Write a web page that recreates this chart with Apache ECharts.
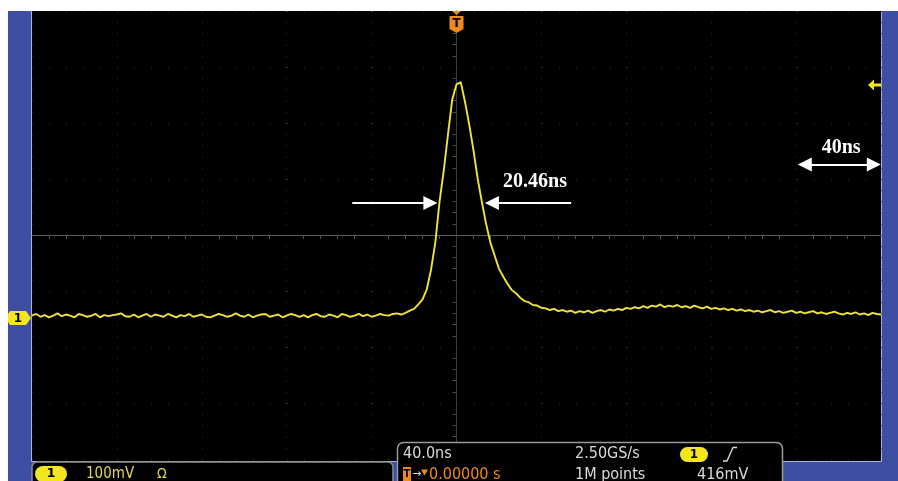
<!DOCTYPE html>
<html>
<head>
<meta charset="utf-8">
<script src="https://cdn.jsdelivr.net/npm/echarts@6/dist/echarts.min.js"></script>
<style>
html,body{margin:0;padding:0;background:#ffffff;}
#c{width:898px;height:481px;}
</style>
</head>
<body>
<div id="c"></div>
<script>
// ---------------- DATA ----------------
// Time base of the acquisition (ns)
const SAMPLE_START_NS = -200;
const SAMPLE_STEP_NS = 2;
const TIME_DIV_NS = 40;
const VOLT_DIV_MV = 100;
const GROUND_BELOW_CENTER_DIV = 1.48;
const TRIGGER_TIME_NS = 0;
const TRIGGER_LEVEL_MV = 416;

// Channel 1 trace (mV above ground), one value per sample
const baselineLeftMV = [
  4,7,2,5,1,4,8,3,6,4,1,7,5,2,4,7,1,5,3,5,
  6,8,3,2,6,1,4,7,2,6,4,2,7,4,1,5,3,7,2,4,
  6,2,1,4,7,5,2,4,8,4,2,6,1,4,6,7,2,4,6,1,
  4,7,5,2,5,1,5,7,3,2,6,4,1,7,5,2,4,7,3,6,
  2,4,7,5,4,7,8
];
const pulseMV = [
  6,9,13,16,24,33,51,86,134,207,
  263,328,390,417,421,386,345,299,248,206,
  167,134,111,88,74,61,50,44,36,30,
  28,23,22,18
];
const tailRightMV = [
  17,14,16,12,14,11,13,9,12,10,
  13,9,12,14,11,15,13,16,14,18,
  16,19,17,21,18,22,20,24,19,22,
  20,23,19,21,18,22,19,17,20,16,
  18,15,17,14,16,13,15,12,14,11,
  13,10,12,14,10,12,9,11,13,9,
  11,8,10,12,8,10,7,9,11,8,
  6,9,7,10,6,8,5,9,7,6
];

// Annotations (data coordinates: ns, mV); arrow tips at the end coordinates
const fwhmText = '20.46ns';
const fwhmLevelMV = 205;
const fwhmLeftArrowNs = [-49.1, -9.0];
const fwhmRightArrowNs = [54.0, 13.4];
const fwhmLabelAt = [37.0, 243];
const spanText = '40ns';
const spanLevelMV = 274;
const spanArrowNs = [160.8, 199.9];
const spanLabelAt = [181.2, 304];

// Status read-outs
const chStatus = ['1', '100mV', '\u03A9'];
const timeStatus = ['40.0ns', '2.50GS/s', '1', '0.00000 s', '1M points', '416mV'];

// ---------------- CHART ----------------
const traceMV = baselineLeftMV.concat(pulseMV, tailRightMV);
const traceData = traceMV.map((v, i) => [SAMPLE_START_NS + i * SAMPLE_STEP_NS, v]);

const centerMV = GROUND_BELOW_CENTER_DIV * VOLT_DIV_MV;
const chart = echarts.init(document.getElementById('c'), null, {renderer: 'canvas'});

const HEAD = 14;                       // arrow head size (px)
const headNs = (HEAD / 2) * (2 * 5 * TIME_DIV_NS) / 849; // half head in ns (head is centred on the end point)
const COND = '"DejaVu Sans Condensed","Liberation Sans Narrow","DejaVu Sans",sans-serif';

const option = {
  backgroundColor: 'transparent',
  animation: false,
  grid: {left: 32, right: 17, top: 11, bottom: 22, show: false, containLabel: false},
  xAxis: [{
    type: 'value', min: -5 * TIME_DIV_NS, max: 5 * TIME_DIV_NS, interval: TIME_DIV_NS,
    axisLabel: {show: false},
    axisLine: {show: true, onZero: true, onZeroAxisIndex: 1, lineStyle: {color: '#5a5a5a', width: 1}},
    axisTick: {show: false},
    minorTick: {show: true, splitNumber: 5, length: 4, lineStyle: {color: '#555', width: 1}},
    splitLine: {show: true, lineStyle: {color: '#333333', width: 1, type: [1, 10.2]}}
  }],
  yAxis: [{
    type: 'value', min: centerMV - 4 * VOLT_DIV_MV, max: centerMV + 4 * VOLT_DIV_MV,
    show: false,
    axisLine: {onZero: false}
  }, {
    type: 'value', min: -4, max: 4, interval: 1, position: 'left',
    axisLabel: {show: false},
    axisLine: {show: true, onZero: true, onZeroAxisIndex: 0, lineStyle: {color: '#3c3c3c', width: 1}},
    axisTick: {show: false},
    minorTick: {show: true, splitNumber: 5, length: 4, lineStyle: {color: '#4a4a4a', width: 1}},
    splitLine: {show: true, lineStyle: {color: '#333333', width: 1, type: [1, 16]}}
  }],
  series: [{
    type: 'line',
    xAxisIndex: 0, yAxisIndex: 0,
    data: traceData,
    showSymbol: false,
    silent: true,
    lineStyle: {color: '#efe23c', width: 1.9},
    z: 5
  }, {
    // single-headed FWHM arrows
    type: 'line',
    xAxisIndex: 0, yAxisIndex: 0,
    data: [],
    silent: true,
    z: 6,
    markLine: {
      silent: true,
      animation: false,
      label: {show: false},
      lineStyle: {color: '#ffffff', width: 2, type: 'solid'},
      symbol: ['none', 'triangle'],
      symbolSize: HEAD,
      data: [
        [{coord: [fwhmLeftArrowNs[0], fwhmLevelMV]}, {coord: [fwhmLeftArrowNs[1] - headNs, fwhmLevelMV]}],
        [{coord: [fwhmRightArrowNs[0], fwhmLevelMV]}, {coord: [fwhmRightArrowNs[1] + headNs, fwhmLevelMV]}]
      ]
    },
    markPoint: {
      silent: true,
      animation: false,
      symbol: 'circle',
      symbolSize: 0,
      label: {
        show: true, position: 'inside', color: '#ffffff',
        fontFamily: '"Liberation Serif","Times New Roman",serif', fontWeight: 'bold', fontSize: 20,
        formatter: p => p.name
      },
      data: [
        {name: fwhmText, coord: fwhmLabelAt},
        {name: spanText, coord: spanLabelAt}
      ]
    }
  }, {
    // double-headed 40 ns arrow
    type: 'line',
    xAxisIndex: 0, yAxisIndex: 0,
    data: [],
    silent: true,
    z: 6,
    markLine: {
      silent: true,
      animation: false,
      label: {show: false},
      lineStyle: {color: '#ffffff', width: 2, type: 'solid'},
      symbol: ['triangle', 'triangle'],
      symbolSize: HEAD,
      data: [
        [{coord: [spanArrowNs[0] + headNs, spanLevelMV]}, {coord: [spanArrowNs[1] - headNs, spanLevelMV]}]
      ]
    }
  }]
};
chart.setOption(option);

// ---- oscilloscope chrome, positioned from the axes ----
const px = (t, mv) => chart.convertToPixel({xAxisIndex: 0, yAxisIndex: 0}, [t, mv]);
const gnd = px(SAMPLE_START_NS, 0);
const trg = px(TRIGGER_TIME_NS, TRIGGER_LEVEL_MV);
const rect = chart.getModel().getComponent('grid', 0).coordinateSystem.getRect();
const L = rect.x, T = rect.y, R = rect.x + rect.width, B = rect.y + rect.height;

const YEL = '#f4e61c';
const ORA = '#ee8a1e';
const GRY = '#dadada';

const g = [];
// blue frame and black screen
g.push({type: 'rect', z: -20, shape: {x: L - 24, y: T, width: 898 - (L - 24), height: 481 - T}, style: {fill: '#3e4fa3'}, silent: true});
g.push({type: 'rect', z: -19, shape: {x: L - 0.5, y: T, width: R - L + 1, height: B - T + 2}, style: {fill: '#000000'}, silent: true});
g.push({type: 'polyline', z: -18, shape: {points: [[L - 0.5, T], [L - 0.5, B + 2.5], [R + 0.5, B + 2.5], [R + 0.5, T]]}, style: {stroke: '#a9b3e0', lineWidth: 1, fill: null}, silent: true});

// trigger-position marker (top)
g.push({type: 'polygon', z: 50, shape: {points: [[trg[0] - 4.5, T], [trg[0] + 4.5, T], [trg[0], T + 4]]}, style: {fill: ORA}, silent: true});
g.push({type: 'polygon', z: 50, shape: {points: [[trg[0] - 7, T + 5], [trg[0] + 7, T + 5], [trg[0] + 7, T + 18], [trg[0], T + 22], [trg[0] - 7, T + 18]]}, style: {fill: ORA}, silent: true});
g.push({type: 'text', z: 51, x: trg[0], y: T + 12.5, style: {text: 'T', fill: '#000', font: 'bold 12px "DejaVu Sans",sans-serif', align: 'center', verticalAlign: 'middle'}, silent: true});

// trigger level marker (right)
g.push({type: 'polygon', z: 50, shape: {points: [[R - 13, trg[1]], [R - 7, trg[1] - 5.5], [R - 7, trg[1] - 1.5], [R, trg[1] - 1.5], [R, trg[1] + 1.5], [R - 7, trg[1] + 1.5], [R - 7, trg[1] + 5.5]]}, style: {fill: YEL}, silent: true});

// ground marker (left)
g.push({type: 'polygon', z: 50, shape: {points: [[L - 22, gnd[1] - 7], [L - 6, gnd[1] - 7], [L - 1, gnd[1]], [L - 6, gnd[1] + 7], [L - 22, gnd[1] + 7], [L - 24, gnd[1] + 4], [L - 24, gnd[1] - 4]]}, style: {fill: YEL}, silent: true});
g.push({type: 'text', z: 51, x: L - 14, y: gnd[1] + 0.5, style: {text: chStatus[0], fill: '#000', font: 'bold 12px "DejaVu Sans",sans-serif', align: 'center', verticalAlign: 'middle'}, silent: true});

// bottom-left channel panel
g.push({type: 'rect', z: 100, shape: {x: L, y: 462, width: 361, height: 30, r: [5, 5, 0, 0]}, style: {fill: '#000', stroke: '#8c8c8c', lineWidth: 1.5}, silent: true});
g.push({type: 'rect', z: 101, shape: {x: 35, y: 466, width: 32, height: 16, r: 8}, style: {fill: YEL}, silent: true});
g.push({type: 'text', z: 102, x: 51, y: 474, style: {text: chStatus[0], fill: '#000', font: 'bold 13px "DejaVu Sans",sans-serif', align: 'center', verticalAlign: 'middle'}, silent: true});
g.push({type: 'text', z: 102, x: 86, y: 474, style: {text: chStatus[1], fill: '#e3d560', font: '15px ' + COND, align: 'left', verticalAlign: 'middle'}, silent: true});
g.push({type: 'text', z: 102, x: 157, y: 474.5, style: {text: chStatus[2], fill: '#e3d560', font: '14px ' + COND, align: 'left', verticalAlign: 'middle'}, silent: true});

// bottom-middle timebase panel
g.push({type: 'rect', z: 100, shape: {x: 397.5, y: 442.5, width: 385, height: 45, r: [6, 6, 0, 0]}, style: {fill: '#000', stroke: '#9a9a9a', lineWidth: 1.5}, silent: true});
g.push({type: 'text', z: 102, x: 403, y: 454, style: {text: timeStatus[0], fill: GRY, font: '16px ' + COND, align: 'left', verticalAlign: 'middle'}, silent: true});
g.push({type: 'text', z: 102, x: 575, y: 454, style: {text: timeStatus[1], fill: GRY, font: '16px ' + COND, align: 'left', verticalAlign: 'middle'}, silent: true});
g.push({type: 'rect', z: 101, shape: {x: 680, y: 447, width: 28, height: 15, r: 7.5}, style: {fill: YEL}, silent: true});
g.push({type: 'text', z: 102, x: 694, y: 454.5, style: {text: timeStatus[2], fill: '#000', font: 'bold 12px "DejaVu Sans",sans-serif', align: 'center', verticalAlign: 'middle'}, silent: true});
g.push({type: 'polyline', z: 102, shape: {points: [[723, 461], [727, 461], [733, 447.5], [737, 447.5]]}, style: {stroke: GRY, lineWidth: 1.3, fill: null}, silent: true});
g.push({type: 'rect', z: 101, shape: {x: 403, y: 467, width: 8, height: 15}, style: {fill: ORA}, silent: true});
g.push({type: 'text', z: 102, x: 407, y: 474.5, style: {text: 'T', fill: '#000', font: 'bold 10px "DejaVu Sans",sans-serif', align: 'center', verticalAlign: 'middle'}, silent: true});
g.push({type: 'text', z: 102, x: 412, y: 474, style: {text: '\u2192', fill: GRY, font: '11px "DejaVu Sans",sans-serif', align: 'left', verticalAlign: 'middle'}, silent: true});
g.push({type: 'polygon', z: 102, shape: {points: [[421, 469.5], [428, 469.5], [424.5, 475.5]]}, style: {fill: ORA}, silent: true});
g.push({type: 'text', z: 102, x: 429, y: 475, style: {text: timeStatus[3], fill: ORA, font: '16px ' + COND, align: 'left', verticalAlign: 'middle'}, silent: true});
g.push({type: 'text', z: 102, x: 575, y: 475, style: {text: timeStatus[4], fill: GRY, font: '16px ' + COND, align: 'left', verticalAlign: 'middle'}, silent: true});
g.push({type: 'text', z: 102, x: 697, y: 475, style: {text: timeStatus[5], fill: GRY, font: '16px ' + COND, align: 'left', verticalAlign: 'middle'}, silent: true});

chart.setOption({graphic: {elements: g}});
</script>
</body>
</html>
